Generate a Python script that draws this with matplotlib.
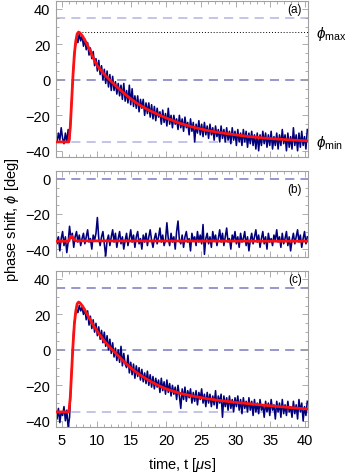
import numpy as np
import matplotlib
matplotlib.use("Agg")
import matplotlib.pyplot as plt
from matplotlib.ticker import MultipleLocator

plt.rcParams['font.family'] = ['Liberation Sans', 'DejaVu Sans']
plt.rcParams['mathtext.fontset'] = 'custom'
plt.rcParams['mathtext.rm'] = 'Liberation Sans'
plt.rcParams['mathtext.it'] = 'Liberation Sans:italic'

# ---- data ----
t_start = 4.1
t_step = 0.2

phase_a = [
    -31, -35, -30, -34, -27, -33, -36, -30, -35, -28,
    -34, -20, -4, 9, 18, 24, 21, 26, 22, 25,
    19, 23, 17, 21, 14, 18, 12, 16, 8, 12,
    5, 11, 3, 8, 0, 6, -2, 5, -4, 3,
    -6, 2, -6, -1, -8, -2, -9, -3, -11, -2,
    -12, -6, -13, -3, -14, -5, -15, -9, -16, -9,
    -18, -11, -16, -11, -20, -13, -19, -13, -21, -14,
    -22, -15, -23, -16, -21, -18, -25, -17, -24, -19,
    -26, -16, -25, -20, -27, -20, -25, -22, -28, -20,
    -27, -22, -29, -21, -27, -24, -31, -22, -29, -24,
    -35, -25, -30, -23, -31, -25, -32, -24, -31, -26,
    -33, -25, -31, -27, -34, -26, -32, -28, -35, -26,
    -33, -28, -35, -27, -34, -29, -36, -27, -34, -29,
    -37, -28, -35, -30, -37, -28, -35, -29, -38, -30,
    -36, -29, -37, -31, -39, -30, -40, -31, -37, -29,
    -36, -30, -38, -31, -37, -29, -39, -32, -37, -30,
    -39, -31, -37, -28, -36, -31, -40, -30, -38, -32,
    -39, -27, -37, -31, -40, -30, -38, -29, -37, -32,
    -39, -28,
]

phase_b = [
    -29, -37, -33, -41, -34, -30, -38, -33, -42, -36,
    -27, -34, -31, -39, -33, -30, -36, -32, -38, -34,
    -31, -37, -33, -29, -36, -34, -40, -32, -35, -31,
    -22, -34, -38, -33, -30, -37, -44, -35, -32, -38,
    -33, -29, -36, -31, -39, -34, -30, -37, -33, -40,
    -35, -31, -38, -34, -29, -36, -32, -39, -33, -30,
    -37, -34, -40, -32, -36, -31, -38, -33, -29, -35,
    -39, -34, -31, -37, -33, -28, -36, -32, -38, -35,
    -25, -34, -38, -31, -36, -33, -40, -30, -24, -35,
    -37, -32, -39, -33, -30, -36, -34, -41, -31, -35,
    -33, -38, -30, -36, -32, -37, -26, -43, -34, -31,
    -37, -33, -39, -30, -35, -32, -38, -34, -29, -36,
    -31, -38, -33, -28, -36, -34, -40, -32, -35, -30,
    -37, -33, -39, -31, -36, -34, -30, -38, -33, -41,
    -35, -31, -37, -33, -29, -36, -32, -39, -34, -30,
    -37, -33, -40, -31, -36, -34, -38, -32, -35, -29,
    -36, -33, -39, -31, -37, -34, -30, -38, -33, -41,
    -35, -31, -37, -33, -29, -36, -32, -39, -34, -30,
    -37, -33,
]

phase_c = [
    -30, -39, -33, -41, -35, -37, -32, -40, -34, -44,
    -38, -21, -3, 11, 19, 23, 21, 25, 22, 24,
    20, 23, 17, 22, 14, 19, 12, 17, 10, 15,
    8, 13, 6, 11, 4, 10, 2, 8, 0, 6,
    -2, 4, -4, 1, -6, 0, -7, 2, -9, -2,
    -8, -10, -3, -13, -7, -14, -8, -16, -9, -15,
    -10, -17, -11, -18, -13, -19, -12, -20, -14, -21,
    -15, -22, -16, -21, -17, -24, -16, -23, -18, -25,
    -17, -24, -19, -26, -20, -25, -21, -28, -20, -26,
    -33, -22, -28, -21, -29, -23, -27, -22, -30, -24,
    -29, -23, -31, -24, -28, -22, -30, -25, -32, -24,
    -30, -25, -32, -26, -31, -23, -33, -26, -30, -25,
    -38, -26, -32, -27, -34, -26, -33, -28, -35, -27,
    -32, -26, -34, -28, -36, -27, -33, -29, -35, -27,
    -34, -29, -37, -28, -35, -30, -36, -28, -34, -31,
    -38, -29, -35, -30, -37, -28, -34, -31, -39, -29,
    -35, -30, -38, -28, -36, -31, -37, -29, -35, -32,
    -38, -29, -36, -31, -39, -28, -35, -30, -40, -32,
    -37, -29,
]

fit_t = [4.1, 6.0, 6.2, 6.4, 6.6, 6.8, 7.0, 7.2, 7.4, 7.6, 8.0, 8.5, 9.0, 9.5,
         10, 11, 12, 13, 14, 15, 16, 17, 18, 19, 20, 22, 24, 26, 28, 30, 32,
         34, 36, 38, 40.4]
fit_a = [-35, -35, -27, -12, 3, 15, 22, 26, 27, 26.5, 24.5, 21, 17, 12.5,
         8.5, 3.5, -0.5, -4.3, -7.8, -11, -13.7, -16, -18, -19.8, -21.5,
         -24.5, -26.8, -28.6, -29.9, -31, -32, -32.8, -33.4, -33.9, -34.4]
fit_c = [-35, -35, -27, -12, 3, 15, 22, 26, 27, 26.5, 24.5, 21, 17.5, 14,
         11, 5.5, 1, -3, -7, -10.5, -13.5, -16, -18.3, -20.3, -22, -24.5,
         -26.2, -27.6, -28.7, -29.6, -30.4, -31.2, -31.9, -32.6, -33.4]
fit_b_t = [4.1, 6.0, 6.2, 6.4, 6.7, 7.0, 40.4]
fit_b = [-35.5, -35.5, -33, -32.5, -34.5, -35.3, -35.5]

phi_max = 27
phi_min = -35
ref_lines_a = [35, 0, -35]
ref_lines_b = [0]
ref_lines_c = [35, 0, -35]

yt_ac = [-40, -20, 0, 20, 40]
yt_b = [-40, -20, 0]
xt = [5, 10, 15, 20, 25, 30, 35, 40]

t = t_start + t_step * np.arange(len(phase_a))

# ---- figure ----
W, H = 353, 477
fig = plt.figure(figsize=(W / 100, H / 100), dpi=100)

def ax_rect(top_px, bot_px, left_px=56, right_px=308):
    return [left_px / W, 1 - bot_px / H, (right_px - left_px) / W, (bot_px - top_px) / H]

ax_a = fig.add_axes(ax_rect(2, 158))
ax_b = fig.add_axes(ax_rect(172, 258))
ax_c = fig.add_axes(ax_rect(272, 428))

frame_col = '#a0a0a0'
dark_dash = '#7a7ac0'
light_dash = '#b4b4e0'
navy = '#00007a'
red = '#ff1010'

def style(ax, ylim, yticks, show_x):
    ax.set_xlim(4.15, 40.4)
    ax.set_ylim(*ylim)
    ax.set_yticks(yticks)
    ax.set_xticks(xt)
    ax.xaxis.set_minor_locator(MultipleLocator(1))
    ax.yaxis.set_minor_locator(MultipleLocator(5))
    ax.tick_params(which='both', direction='in', top=True, right=True,
                   color=frame_col, width=0.6, labelsize=10.5, pad=4)
    ax.tick_params(which='major', length=4)
    ax.tick_params(which='minor', length=2)
    for s in ax.spines.values():
        s.set_color(frame_col)
        s.set_linewidth(0.8)
    if not show_x:
        ax.set_xticklabels([])

def refs(ax, vals, colors):
    for v, c in zip(vals, colors):
        ax.axhline(v, color=c, lw=1.1, dashes=(6, 4), zorder=1)

noise_lw = 1.15
fit_lw = 2.0

# panel a
refs(ax_a, ref_lines_a, [light_dash, dark_dash, light_dash])
ax_a.plot(t, phase_a, color=navy, lw=noise_lw, zorder=2)
ax_a.plot(fit_t, fit_a, color=red, lw=fit_lw, zorder=3)
ax_a.plot([7.4, 40.4], [phi_max, phi_max], color='black', lw=0.7,
          linestyle=(0, (1, 2)), zorder=2)
style(ax_a, (-43.5, 44.5), yt_ac, False)
ax_a.text(0.975, 0.985, '(a)', transform=ax_a.transAxes, ha='right', va='top', fontsize=8.5)

# panel b
refs(ax_b, ref_lines_b, [dark_dash])
ax_b.plot(t, phase_b, color=navy, lw=noise_lw, zorder=2)
ax_b.plot(fit_b_t, fit_b, color=red, lw=fit_lw, zorder=3)
style(ax_b, (-44.5, 4.5), yt_b, False)
ax_b.text(0.975, 0.86, '(b)', transform=ax_b.transAxes, ha='right', va='top', fontsize=8.5)

# panel c
refs(ax_c, ref_lines_c, [dark_dash, dark_dash, light_dash])
ax_c.plot(t, phase_c, color=navy, lw=noise_lw, zorder=2)
ax_c.plot(fit_t, fit_c, color=red, lw=fit_lw, zorder=3)
style(ax_c, (-43.5, 44.5), yt_ac, True)
ax_c.text(0.975, 0.985, '(c)', transform=ax_c.transAxes, ha='right', va='top', fontsize=8.5)
ax_c.set_xlabel(r'time, t [$\mu$s]', fontsize=10.5, labelpad=6)

# side labels
fig.text(316 / W, 1 - 34 / H, r'$\phi_{\rm max}$', fontsize=11, ha='left', va='center')
fig.text(316 / W, 1 - 143 / H, r'$\phi_{\rm min}$', fontsize=11, ha='left', va='center')
fig.text(12 / W, 1 - 220 / H, r'phase shift, $\phi$ [deg]', fontsize=10.5,
         rotation=90, ha='center', va='center')

fig.savefig('out.png', dpi=100)
